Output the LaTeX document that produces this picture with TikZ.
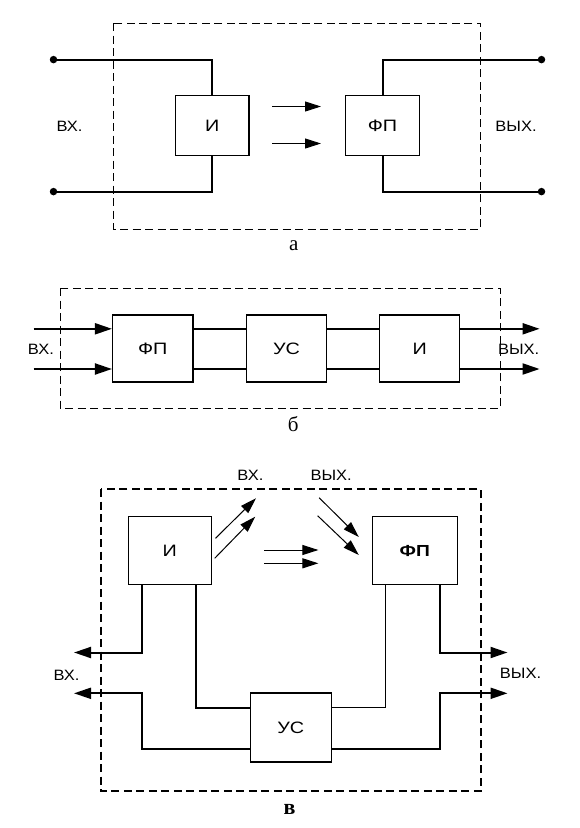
\documentclass[tikz,border=0pt]{standalone}
\usepackage{fontspec}
\setmainfont{Liberation Serif}
\setsansfont{Liberation Sans}
\newfontfamily\boxfont[FakeStretch=1.2]{Liberation Sans}
\newfontfamily\lblfont[FakeStretch=1.1]{Liberation Sans}
\usetikzlibrary{arrows.meta,calc}
\begin{document}
\begin{tikzpicture}[x=1pt,y=-1pt,
  frame/.style={draw,line width=1pt,dash pattern=on 8pt off 4.5pt},
  blk/.style={draw,line width=1.2pt,inner sep=0pt,font=\boxfont\fontsize{16.5}{16.5}\selectfont},
  wire/.style={line width=2pt},
  thinw/.style={line width=1pt},
  arr/.style={-{Triangle[length=16pt,width=10pt]}},
  warr/.style={-{Triangle[length=17pt,width=11pt]}},
  lbl/.style={font=\lblfont\fontsize{15}{15}\selectfont,inner sep=0pt},
  captext/.style={font=\rmfamily\fontsize{21}{21}\selectfont,inner sep=0pt},
  pin/.style={circle,fill,inner sep=0pt,minimum size=7.5pt}]
\useasboundingbox (0,0) rectangle (579,828);
% ---------- panel a ----------
\draw[frame] (113.5,23) rectangle (480.5,229);
\node[blk,minimum width=73.5pt,minimum height=60pt] (Ia) at (212.2,125.5) {И};
\node[blk,minimum width=73.5pt,minimum height=60pt] (FPa) at (382.5,125.5) {ФП};
\node[pin] (tl) at (53.5,59.6) {};
\node[pin] (bl) at (53.5,191.6) {};
\node[pin] (tr) at (541.5,59.6) {};
\node[pin] (br) at (541.5,191.6) {};
\draw[wire] (tl.center) -| (Ia.north);
\draw[wire] (bl.center) -| (Ia.south);
\draw[wire] (tr.center) -| (FPa.north);
\draw[wire] (br.center) -| (FPa.south);
\coordinate (a1s) at (272,106.5); \coordinate (a1e) at (321,106.5);
\coordinate (a2s) at (272,143.5); \coordinate (a2e) at (321,143.5);
\draw[thinw,arr] (a1s) -- (a1e);
\draw[thinw,arr] (a2s) -- (a2e);
\node[lbl] (ainl) at (69.5,126) {ВХ.};
\node[lbl] (aoutl) at (516,126) {ВЫХ.};
\node[captext] (capa) at (293.8,246) {а};
% ---------- panel b ----------
\draw[frame] (60.4,288) rectangle (500.3,408.3);
\node[blk,minimum width=80.5pt,minimum height=67pt] (FPb) at (152.8,348.4) {ФП};
\node[blk,minimum width=80pt,minimum height=67pt] (USb) at (286.5,348.4) {УС};
\node[blk,minimum width=80pt,minimum height=67pt] (Ib) at (419.8,348.4) {И};
\coordinate (bi1) at (33.5,328.8); \coordinate (bi2) at (33.5,369);
\coordinate (bo1) at (539.6,328.8); \coordinate (bo2) at (539.6,369);
\draw[wire,warr] (bi1) -- (bi1 -| FPb.west);
\draw[wire,warr] (bi2) -- (bi2 -| FPb.west);
\draw[wire] (bi1 -| FPb.east) -- (bi1 -| USb.west);
\draw[wire] (bi2 -| FPb.east) -- (bi2 -| USb.west);
\draw[wire] (bi1 -| USb.east) -- (bi1 -| Ib.west);
\draw[wire] (bi2 -| USb.east) -- (bi2 -| Ib.west);
\draw[wire,warr] (bo1 -| Ib.east) -- (bo1);
\draw[wire,warr] (bo2 -| Ib.east) -- (bo2);
\node[lbl] (binl) at (40.9,349) {ВХ.};
\node[lbl] (boutl) at (518.6,349) {ВЫХ.};
\node[captext] (capb) at (293.3,424) {б};
% ---------- panel c ----------
\draw[frame,line width=1.6pt] (100.8,489) rectangle (480.8,791);
\node[blk,minimum width=83pt,minimum height=68pt] (Ic) at (169.7,550.5) {И};
\node[blk,minimum width=85pt,minimum height=68pt,font=\boxfont\bfseries\fontsize{16}{16}\selectfont] (FPc) at (414.7,550.5) {ФП};
\node[blk,minimum width=81pt,minimum height=69pt] (USc) at (290.8,727.5) {УС};
\coordinate (cl1) at (74,652.5); \coordinate (cl2) at (74,693.3);
\coordinate (cr1) at (507.5,652.5); \coordinate (cr2) at (507.5,693.3);
\coordinate (cm1) at (0,707.7); \coordinate (cm2) at (0,749);
\draw[wire,warr] ($(Ic.south)+(-27.7,0)$) |- (cl1);
\draw[wire] ($(Ic.south)+(26.6,0)$) |- (cm1 -| USc.west);
\draw[wire,warr] (cm2 -| USc.west) -| (142,693.3) -- (cl2);
\draw[thinw] ($(FPc.south)+(-29,0)$) |- (cm1 -| USc.east);
\draw[wire,warr] ($(FPc.south)+(25.1,0)$) |- (cr1);
\draw[wire,warr] (cm2 -| USc.east) -| (439.8,693.3) -- (cr2);
\coordinate (d1s) at (215.5,538.3); \coordinate (d1e) at (256,498.3);
\coordinate (d2s) at (214.7,558.3); \coordinate (d2e) at (255.2,516.7);
\coordinate (d3s) at (319.1,497.7); \coordinate (d3e) at (358.8,537);
\coordinate (d4s) at (317.6,515.7); \coordinate (d4e) at (358.8,555);
\coordinate (h1s) at (264,550); \coordinate (h1e) at (318.4,550);
\coordinate (h2s) at (264,563.3); \coordinate (h2e) at (318.4,563.3);
\draw[thinw,arr] (d1s) -- (d1e);
\draw[thinw,arr] (d2s) -- (d2e);
\draw[thinw,arr] (d3s) -- (d3e);
\draw[thinw,arr] (d4s) -- (d4e);
\draw[thinw,arr] (h1s) -- (h1e);
\draw[thinw,arr] (h2s) -- (h2e);
\node[lbl] (cinl) at (66.6,675) {ВХ.};
\node[lbl] (coutl) at (520.5,673) {ВЫХ.};
\node[lbl] (cint) at (250.4,475) {ВХ.};
\node[lbl] (coutt) at (331.2,475) {ВЫХ.};
\node[captext,font=\rmfamily\bfseries\fontsize{22}{22}\selectfont] (capc) at (289.5,809) {в};
\end{tikzpicture}
\end{document}
